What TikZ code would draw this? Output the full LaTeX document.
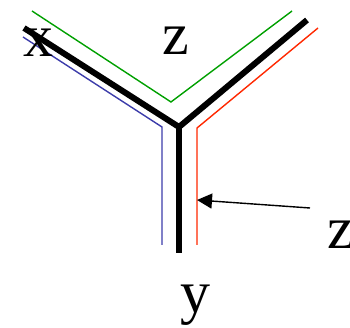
\documentclass[tikz,border=0pt]{standalone}
\usepackage{fontspec}
\setmainfont{Liberation Serif}
\usetikzlibrary{arrows.meta}
\definecolor{gline}{RGB}{0,160,0}
\definecolor{bline}{RGB}{60,60,170}
\definecolor{rline}{RGB}{255,40,0}
\tikzset{
  axis/.style={line width=6pt, line join=miter},
  thin line/.style={line width=1.4pt, line join=miter},
  lbl/.style={anchor=base, inner sep=0pt, font=\fontsize{60}{60}\selectfont},
}
\begin{document}
\begin{tikzpicture}[x=1pt,y=-1pt]
\useasboundingbox (0,0) rectangle (350,328);
% axes
\coordinate (o) at (179,127);
\coordinate (xe) at (24,28);
\coordinate (ze) at (307,20);
\coordinate (ye) at (179,253);
\draw[axis] (xe) -- (o) -- (ze);
\draw[axis] (o) -- (ye);
% coloured outlines
\draw[thin line, gline] (32,11) coordinate (g1) -- (171,102) coordinate (g2) -- (292,11) coordinate (g3);
\draw[thin line, bline] (23,37) coordinate (b1) -- (162,127) coordinate (b2) -- (162,245) coordinate (b3);
\draw[thin line, rline] (318,28) coordinate (r1) -- (197,128) coordinate (r2) -- (197,245) coordinate (r3);
% labels
\node[lbl] (lx) at (38,57) {x};
\node[lbl] (lz) at (176,55) {z};
\node[lbl] (ly) at (195,312) {y};
\node[lbl] (lz2) at (341,248) {z};
% arrow
\coordinate (as) at (310,208);
\coordinate (ae) at (197,200);
\draw[line width=1.4pt, -{Triangle[length=15pt,width=15pt]}] (as) -- (ae);
\end{tikzpicture}
\end{document}
